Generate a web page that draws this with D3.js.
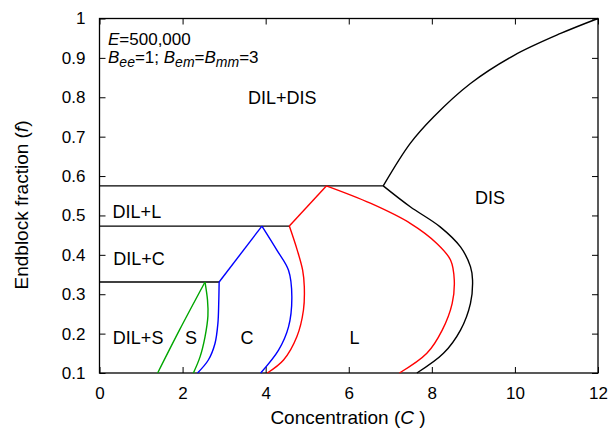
<!DOCTYPE html>
<html>
<head>
<meta charset="utf-8">
<script src="https://cdn.jsdelivr.net/npm/d3@7"></script>
<style>
  html, body { margin: 0; padding: 0; background: #fff; }
  svg { display: block; font-family: "Liberation Sans", Arial, Helvetica, sans-serif; }
</style>
</head>
<body>
<svg id="chart" width="613" height="431"></svg>
<script>
// Axis ticks
const xTicks = [0, 2, 4, 6, 8, 10, 12];
const yTicks = [0.1, 0.2, 0.3, 0.4, 0.5, 0.6, 0.7, 0.8, 0.9, 1];

// Horizontal tie lines at the three-phase compositions: [f, C at right end]
const tieLines = [
  [0.575, 6.83],
  [0.473, 4.57],
  [0.331, 2.88]
];

// Sphere (S) boundaries
const greenLeft  = [[1.40, 0.1], [1.93, 0.21], [2.54, 0.331]];
const greenRight = [[2.54, 0.331], [2.60, 0.285], [2.61, 0.245], [2.54, 0.192], [2.42, 0.141], [2.26, 0.1]];

// Cylinder (C) boundaries
const blueLeft   = [[2.36, 0.1], [2.62, 0.133], [2.78, 0.175], [2.85, 0.226], [2.87, 0.277], [2.88, 0.331]];
const blueEdge   = [[2.88, 0.331], [3.91, 0.473]];
const blueRight  = [[3.91, 0.473], [4.27, 0.412], [4.55, 0.361], [4.63, 0.294], [4.55, 0.217], [4.31, 0.158], [3.88, 0.1]];

// Lamellar (L) boundaries
const redLeft    = [[4.04, 0.1], [4.43, 0.133], [4.75, 0.192], [4.91, 0.26], [4.93, 0.319], [4.89, 0.361], [4.76, 0.412], [4.57, 0.473]];
const redEdge    = [[4.57, 0.473], [5.46, 0.575]];
const redRight   = [[5.46, 0.575], [6.52, 0.531], [7.48, 0.48], [8.12, 0.429], [8.45, 0.387], [8.54, 0.336], [8.49, 0.277], [8.25, 0.209], [7.88, 0.15], [7.22, 0.1]];

// Disordered (DIS) boundaries
const blackLower = [[6.83, 0.575], [7.48, 0.522], [8.20, 0.471], [8.69, 0.42], [8.93, 0.37], [8.98, 0.336], [8.93, 0.277], [8.69, 0.209], [8.28, 0.15], [7.64, 0.1]];
const blackUpper = [[6.83, 0.575], [7.48, 0.683], [8.04, 0.75], [8.93, 0.835], [9.97, 0.906], [11.10, 0.962], [12, 1]];

// Region labels: [text, C, f]
const regionLabels = [
  ["DIL+DIS", 4.40, 0.80],
  ["DIL+L",   0.90, 0.51],
  ["DIL+C",   0.95, 0.39],
  ["DIL+S",   0.93, 0.19],
  ["S",       2.20, 0.19],
  ["C",       3.55, 0.19],
  ["L",       6.14, 0.19],
  ["DIS",     9.40, 0.545]
];

const svg = d3.select("#chart");
const m = { left: 99.5, right: 598, top: 18.5, bottom: 373 };

const x = d3.scaleLinear().domain([0, 12]).range([m.left, m.right]);
const y = d3.scaleLinear().domain([0.1, 1]).range([m.bottom, m.top]);

// Frame
svg.append("rect")
  .attr("x", m.left).attr("y", m.top)
  .attr("width", m.right - m.left).attr("height", m.bottom - m.top)
  .attr("fill", "none").attr("stroke", "#000").attr("stroke-width", 1.3);

// Axes with inward ticks on all four sides
const tickLen = 6;
const fmtY = d => d === 1 ? "1" : d3.format(".1f")(d);

const gx = svg.append("g").attr("transform", `translate(0,${m.bottom})`)
  .call(d3.axisBottom(x).tickValues(xTicks).tickSizeInner(-tickLen).tickSizeOuter(0).tickPadding(14));
const gy = svg.append("g").attr("transform", `translate(${m.left},0)`)
  .call(d3.axisLeft(y).tickValues(yTicks).tickFormat(fmtY).tickSizeInner(-tickLen).tickSizeOuter(0).tickPadding(14));
const gt = svg.append("g").attr("transform", `translate(0,${m.top})`)
  .call(d3.axisTop(x).tickValues(xTicks).tickSizeInner(-tickLen).tickSizeOuter(0).tickFormat(""));
const gr = svg.append("g").attr("transform", `translate(${m.right},0)`)
  .call(d3.axisRight(y).tickValues(yTicks).tickSizeInner(-tickLen).tickSizeOuter(0).tickFormat(""));

[gx, gy, gt, gr].forEach(g => {
  g.select(".domain").remove();
  g.selectAll(".tick line").attr("stroke", "#000").attr("stroke-width", 1);
  g.selectAll("text").attr("fill", "#000").attr("font-size", 17)
    .attr("font-family", "'Liberation Sans', Arial, sans-serif");
});

// Axis titles
svg.append("text")
  .attr("x", 348).attr("y", 424)
  .attr("text-anchor", "middle").attr("font-size", 19)
  .html('Concentration (<tspan font-style="italic">C</tspan> )');

svg.append("text")
  .attr("transform", `translate(28,${205}) rotate(-90)`)
  .attr("text-anchor", "middle").attr("font-size", 19)
  .html('Endblock fraction (<tspan font-style="italic">f</tspan>)');

// Tie lines
svg.append("g").selectAll("line").data(tieLines).join("line")
  .attr("x1", x(0)).attr("x2", d => x(d[1]))
  .attr("y1", d => y(d[0])).attr("y2", d => y(d[0]))
  .attr("stroke", "#000").attr("stroke-width", 1.4);

// Phase boundaries
const smooth = d3.line().x(d => x(d[0])).y(d => y(d[1])).curve(d3.curveCatmullRom.alpha(0.5));
const straight = d3.line().x(d => x(d[0])).y(d => y(d[1]));

const curves = [
  [greenLeft, "#00a600", smooth],
  [greenRight, "#00a600", smooth],
  [blueLeft, "#0000ff", smooth],
  [blueEdge, "#0000ff", straight],
  [blueRight, "#0000ff", smooth],
  [redLeft, "#ff0000", smooth],
  [redEdge, "#ff0000", straight],
  [redRight, "#ff0000", smooth],
  [blackLower, "#000000", smooth],
  [blackUpper, "#000000", smooth]
];

svg.append("g").selectAll("path").data(curves).join("path")
  .attr("d", d => d[2](d[0]))
  .attr("fill", "none")
  .attr("stroke", d => d[1])
  .attr("stroke-width", 1.4);

// Region labels
svg.append("g").selectAll("text").data(regionLabels).join("text")
  .attr("x", d => x(d[1])).attr("y", d => y(d[2]))
  .attr("text-anchor", "middle").attr("dy", "0.36em")
  .attr("font-size", 18)
  .text(d => d[0]);

// Parameter annotation
const note = svg.append("g").attr("font-size", 17);
note.append("text").attr("x", 108).attr("y", 45)
  .html('<tspan font-style="italic">E</tspan>=500,000');
note.append("text").attr("x", 108).attr("y", 63)
  .html('<tspan font-style="italic">B</tspan><tspan font-style="italic" font-size="14" dy="4">ee</tspan><tspan dy="-4">=1; </tspan>' +
        '<tspan font-style="italic">B</tspan><tspan font-style="italic" font-size="14" dy="4">em</tspan><tspan dy="-4">=</tspan>' +
        '<tspan font-style="italic">B</tspan><tspan font-style="italic" font-size="14" dy="4">mm</tspan><tspan dy="-4">=3</tspan>');
</script>
</body>
</html>
